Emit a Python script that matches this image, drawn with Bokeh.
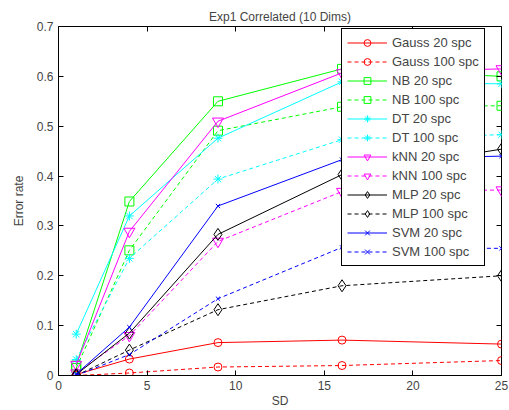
from bokeh.plotting import figure
from bokeh.models import LinearAxis, FixedTicker, Range1d, Legend
from bokeh.embed import file_html
from bokeh.resources import INLINE

sd = [1, 4, 9, 16, 25]
gauss20 = [0.002, 0.033, 0.066, 0.071, 0.063]
gauss100 = [0.0, 0.005, 0.017, 0.020, 0.030]
nb20 = [0.020, 0.349, 0.550, 0.615, 0.600]
nb100 = [0.015, 0.251, 0.491, 0.539, 0.541]
dt20 = [0.083, 0.320, 0.476, 0.589, 0.585]
dt100 = [0.032, 0.235, 0.394, 0.473, 0.483]
knn20 = [0.022, 0.289, 0.510, 0.607, 0.615]
knn100 = [0.005, 0.080, 0.269, 0.369, 0.372]
mlp20 = [0.002, 0.085, 0.283, 0.403, 0.454]
mlp100 = [0.0, 0.051, 0.132, 0.180, 0.200]
svm20 = [0.003, 0.097, 0.340, 0.433, 0.440]
svm100 = [0.0, 0.042, 0.154, 0.257, 0.255]

x_ticks = [0, 5, 10, 15, 20, 25]
y_ticks = [0, 0.1, 0.2, 0.3, 0.4, 0.5, 0.6, 0.7]

series = [
    ("Gauss 20 spc", gauss20, "#ff0000", "solid", "circle", 8),
    ("Gauss 100 spc", gauss100, "#ff0000", "4 3", "circle", 8),
    ("NB 20 spc", nb20, "#00ff00", "solid", "square", 9),
    ("NB 100 spc", nb100, "#00ff00", "4 3", "square", 9),
    ("DT 20 spc", dt20, "#00ffff", "solid", "asterisk", 9),
    ("DT 100 spc", dt100, "#00ffff", "4 3", "asterisk", 9),
    ("kNN 20 spc", knn20, "#ff00ff", "solid", "inverted_triangle", 11),
    ("kNN 100 spc", knn100, "#ff00ff", "4 3", "inverted_triangle", 11),
    ("MLP 20 spc", mlp20, "#000000", "solid", "diamond", 12),
    ("MLP 100 spc", mlp100, "#000000", "4 3", "diamond", 12),
    ("SVM 20 spc", svm20, "#0000ff", "solid", "x", 6),
    ("SVM 100 spc", svm100, "#0000ff", "4 3", "x", 6),
]

FONT = "Liberation Sans"

p = figure(width=509, height=410, output_backend="svg", toolbar_location=None,
           x_range=Range1d(0, 25), y_range=Range1d(0, 0.7),
           min_border_left=58, min_border_right=8, min_border_top=26, min_border_bottom=34,
           title="Exp1 Correlated (10 Dims)")
p.title.align = "center"
p.title.text_font = FONT
p.title.text_font_size = "12px"
p.title.text_font_style = "normal"
p.title.standoff = 6
p.outline_line_color = "black"
p.outline_line_alpha = 1
p.grid.visible = False

items = []
for name, ys, col, dash, mk, sz in series:
    r1 = p.line(sd, ys, line_color=col, line_dash=dash, line_width=1)
    r2 = p.scatter(sd, ys, marker=mk, size=sz, line_color=col, fill_color=None, line_width=1)
    items.append((name, [r1, r2]))

for ax in [p.xaxis[0], p.yaxis[0]]:
    ax.major_tick_in = 5
    ax.major_tick_out = 0
    ax.minor_tick_in = 0
    ax.minor_tick_out = 0
    ax.major_label_text_font = FONT
    ax.major_label_text_font_size = "12px"
    ax.axis_label_text_font = FONT
    ax.axis_label_text_font_size = "12px"
    ax.axis_label_text_font_style = "normal"
    ax.axis_line_color = "black"
p.xaxis[0].ticker = FixedTicker(ticks=x_ticks)
p.yaxis[0].ticker = FixedTicker(ticks=y_ticks)
p.yaxis[0].major_label_overrides = {0: "0"}
p.xaxis[0].axis_label = "SD"
p.yaxis[0].axis_label = "Error rate"
p.xaxis[0].major_label_standoff = 5
p.xaxis[0].axis_label_standoff = 1
p.yaxis[0].major_label_standoff = 5
p.yaxis[0].axis_label_standoff = 8

top = LinearAxis(ticker=FixedTicker(ticks=x_ticks),
                 major_label_overrides={t: "" for t in x_ticks})
right = LinearAxis(ticker=FixedTicker(ticks=y_ticks),
                   major_label_overrides={t: "" for t in y_ticks})
for ax in [top, right]:
    ax.major_tick_in = 5
    ax.major_tick_out = 0
    ax.minor_tick_in = 0
    ax.minor_tick_out = 0
    ax.major_label_standoff = 0
    ax.axis_line_color = None
p.add_layout(top, "above")
p.add_layout(right, "right")

legend = Legend(items=items, location=(283, 109))
legend.label_text_font = FONT
legend.label_text_font_size = "13px"
legend.label_height = 17
legend.glyph_height = 17
legend.glyph_width = 40
legend.spacing = 2
legend.padding = 5
legend.margin = 0
legend.label_standoff = 5
legend.border_line_color = "black"
legend.border_line_alpha = 1
legend.background_fill_alpha = 1
p.add_layout(legend, "center")

open("out.html", "w").write(file_html(p, INLINE))
